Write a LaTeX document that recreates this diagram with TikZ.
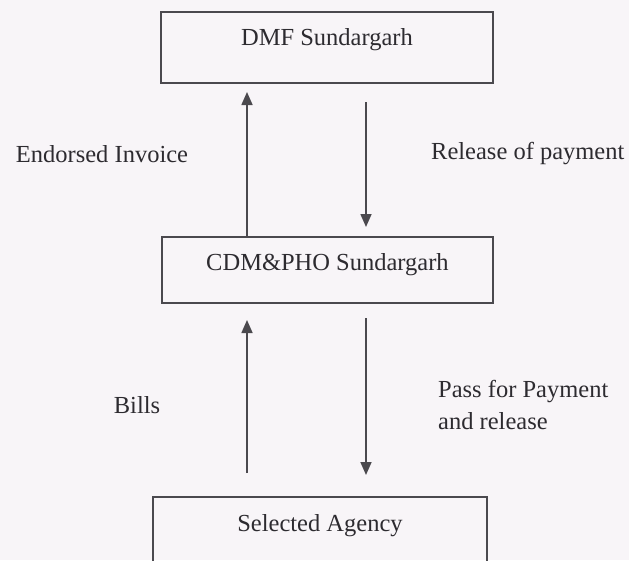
\documentclass[tikz,border=0pt]{standalone}
\usepackage{fontspec}
\setmainfont{Liberation Serif}
\usetikzlibrary{arrows.meta}
\definecolor{bg}{RGB}{248,245,248}
\definecolor{ink}{RGB}{45,43,48}
\definecolor{edge}{RGB}{75,73,78}
\tikzset{
  box/.style={draw=edge, line width=2pt, text=ink, inner sep=0pt,
              font=\fontsize{24.5}{30}\selectfont, text height=17pt},
  lbl/.style={text=ink, inner sep=0pt, font=\fontsize{24.5}{32}\selectfont},
  arr/.style={draw=edge, line width=1.6pt, -{Triangle[length=13pt,width=11pt]}}
}
\begin{document}
\begin{tikzpicture}[x=1pt,y=-1pt]
\fill[bg] (0,0) rectangle (629,560);
\useasboundingbox (0,0) rectangle (629,560);
\clip (0,0) rectangle (629,560);
% boxes
\node[box, minimum width=332pt, minimum height=71pt, text depth=22pt] (dmf) at (327,47.5) {DMF Sundargarh};
\node[box, minimum width=331pt, minimum height=66pt, text depth=17pt] (cdm) at (327.5,270) {CDM\&PHO Sundargarh};
\node[box, minimum width=334pt, minimum height=83pt, text depth=32pt] (agency) at (320,538.5) {Selected Agency};
% arrow end points
\coordinate (u1) at (247,92);
\coordinate (d1s) at (366,102);
\coordinate (d1e) at (366,227);
\coordinate (u2s) at (247,473);
\coordinate (u2e) at (247,320);
\coordinate (d2s) at (366,318);
\coordinate (d2e) at (366,475);
% arrows
\draw[arr] (u1 |- cdm.north) -- (u1);
\draw[arr] (d1s) -- (d1e);
\draw[arr] (u2s) -- (u2e);
\draw[arr] (d2s) -- (d2e);
% labels
\node[lbl] (endorsed) at (102,154) {Endorsed Invoice};
\node[lbl, anchor=west] (release) at (431,154) {Release of payment};
\node[lbl] (bills) at (137,405) {Bills};
\node[lbl, anchor=west, align=left] (pass) at (438,405) {Pass for Payment\\and release};
\end{tikzpicture}
\end{document}
